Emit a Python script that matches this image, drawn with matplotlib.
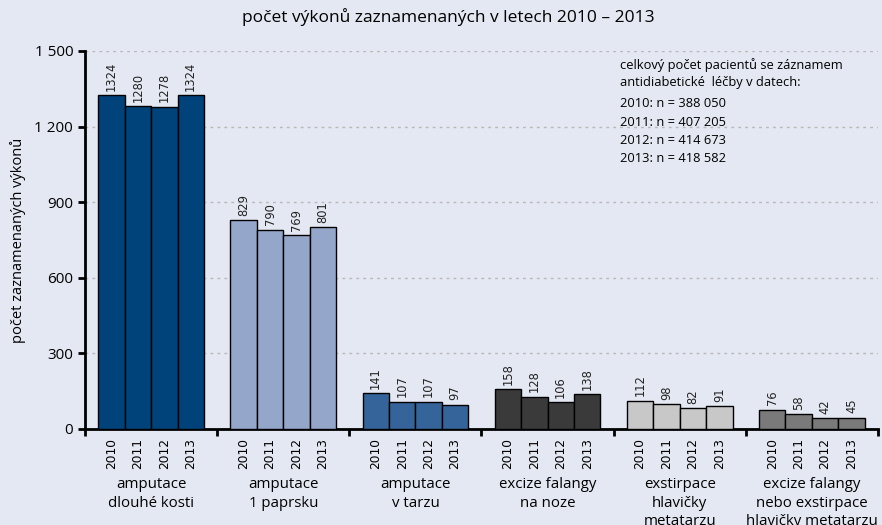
import numpy as np
import matplotlib.pyplot as plt

years = ['2010', '2011', '2012', '2013']
groups = ['amputace\ndlouhé kosti', 'amputace\n1 paprsku', 'amputace\nv tarzu',
          'excize falangy\nna noze', 'exstirpace\nhlavičky\nmetatarzu',
          'excize falangy\nnebo exstirpace\nhlavičky metatarzu']
values = [
    [1324, 1280, 1278, 1324],
    [829, 790, 769, 801],
    [141, 107, 107, 97],
    [158, 128, 106, 138],
    [112, 98, 82, 91],
    [76, 58, 42, 45],
]
colors = ['#00427a', '#94a7cb', '#35649a', '#3a3a3a', '#c8c8c8', '#7a7a7a']
note_lines = ['celkový počet pacientů se záznamem', 'antidiabetické  léčby v datech:']
n_lines = ['2010: n = 388 050', '2011: n = 407 205', '2012: n = 414 673', '2013: n = 418 582']

bg = '#e4e8f2'
txt_font = ['Open Sans', 'DejaVu Sans']
num_font = ['DejaVu Sans']

fig = plt.figure(figsize=(8.82, 5.25), dpi=100, facecolor=bg)
ax = fig.add_axes([0.0964, 0.1829, 0.899, 0.72])
ax.set_facecolor(bg)

w = 0.2
for g, (vals, col) in enumerate(zip(values, colors)):
    xs = g + 0.2 + w * np.arange(4)
    ax.bar(xs, vals, width=w, color=col, edgecolor='black', linewidth=1, zorder=3)
    for x, v in zip(xs, vals):
        ax.text(x, v + 18, str(v), rotation=90, ha='center', va='bottom',
                fontsize=8.3, family=num_font, color='#222222', zorder=4)
    for x, y in zip(xs, years):
        ax.text(x, -0.025, y, rotation=90, ha='center', va='top', fontsize=8.8,
                family=num_font, transform=ax.get_xaxis_transform())
    ax.text(g + 0.5, -0.128, groups[g], ha='center', va='top', fontsize=10.8,
            family=txt_font, linespacing=1.3, transform=ax.get_xaxis_transform())

ax.set_xlim(0, 6)
ax.set_ylim(0, 1500)
ax.set_xticks(range(7))
ax.set_xticklabels([])
ax.set_yticks([0, 300, 600, 900, 1200, 1500])
ax.set_yticklabels(['0', '300', '600', '900', '1 200', '1 500'], family=txt_font, fontsize=11)
ax.tick_params(axis='both', direction='out', length=5, width=2)
ax.grid(axis='y', linestyle=(0, (2, 3)), color='#b8b8b8', linewidth=1, zorder=0)
for s in ['top', 'right']:
    ax.spines[s].set_visible(False)
for s in ['left', 'bottom']:
    ax.spines[s].set_linewidth(2)
ax.set_ylabel('počet zaznamenaných výkonů', family=txt_font, fontsize=10.5, labelpad=6)

fig.text(0.508, 0.967, 'počet výkonů zaznamenaných v letech 2010 – 2013', ha='center', va='center',
         family=txt_font, fontsize=12.5)

ys = [0.876, 0.843, 0.802, 0.767, 0.733, 0.699]
for y, line in zip(ys, note_lines + n_lines):
    fig.text(0.703, y, line, ha='left', va='center', family=txt_font, fontsize=9.3)

fig.savefig('out.png', dpi=100, facecolor=bg)
